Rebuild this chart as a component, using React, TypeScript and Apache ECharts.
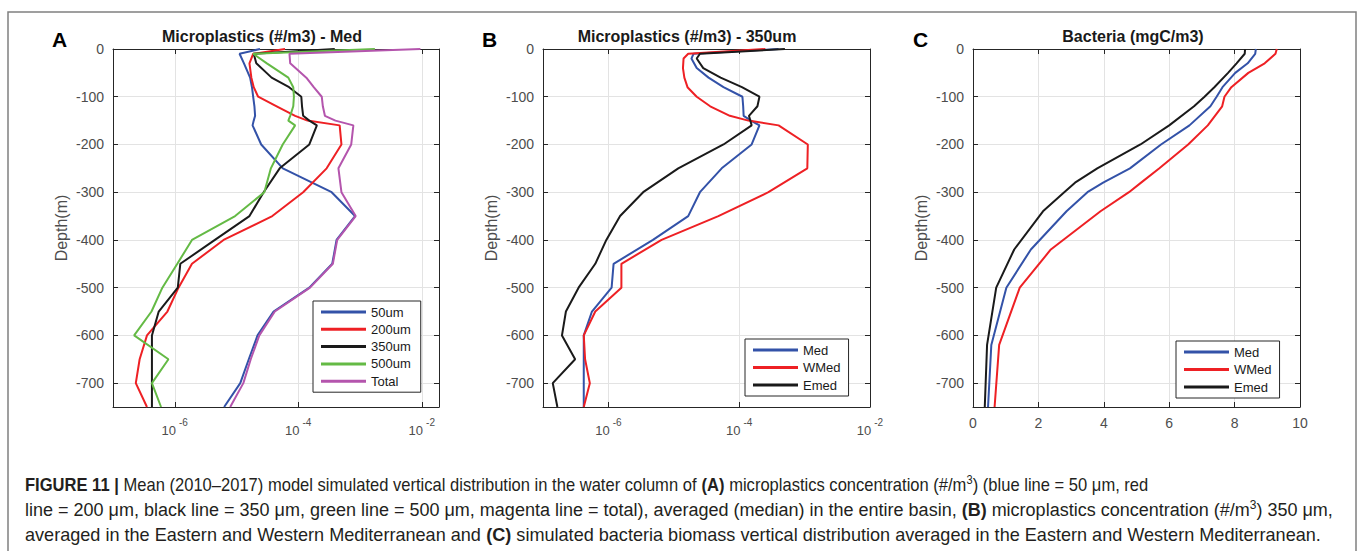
import React, { useEffect, useRef } from 'react';
import * as echarts from 'echarts';

// ---------- Panel A: Microplastics (#/m3) - Med ----------
const depthA = [0, -10, -30, -60, -80, -100, -120, -140, -150, -160, -200, -250, -300, -350, -400, -450, -500, -550, -600, -650, -700, -750];
const a50um = [2.4e-5, 1.12e-5, 1.32e-5, 1.66e-5, 1.78e-5, 1.86e-5, 1.95e-5, 2.0e-5, 1.9e-5, 1.82e-5, 2.51e-5, 5.62e-5, 3.47e-4, 8.3e-4, 4.17e-4, 3.55e-4, 1.51e-4, 3.98e-5, 2.19e-5, 1.58e-5, 1.15e-5, 6.3e-6];
const a200um = [6.1e-5, 1.86e-5, 1.62e-5, 1.74e-5, 1.9e-5, 2.24e-5, 4.47e-5, 8.9e-5, 1.41e-4, 4.68e-4, 5.0e-4, 2.88e-4, 1.2e-4, 3.8e-5, 6.17e-6, 1.9e-6, 1.15e-6, 7.6e-7, 3.55e-7, 2.7e-7, 2.34e-7, 3.55e-7];
const a350um = [3.9e-4, 1.9e-5, 2.09e-5, 3.7e-5, 7.1e-5, 1.12e-4, 1.15e-4, 1.2e-4, 1.51e-4, 2.0e-4, 1.51e-4, 5.0e-5, 2.75e-5, 1.62e-5, 4.47e-6, 1.23e-6, 1.12e-6, 5.5e-7, 4.27e-7, 4.27e-7, 4.27e-7, 4.27e-7];
const a500um = [1.74e-3, 1.86e-5, 3.1e-5, 6.9e-5, 8.3e-5, 8.5e-5, 8.3e-5, 7.4e-5, 6.9e-5, 8.9e-5, 5.6e-5, 3.6e-5, 2.82e-5, 9.5e-6, 1.9e-6, 1.1e-6, 6.3e-7, 4.2e-7, 2.2e-7, 7.9e-7, 4.27e-7, 6.0e-7];
const aTotal = [9.5e-3, 7.2e-5, 7.4e-5, 1.35e-4, 1.78e-4, 2.4e-4, 2.5e-4, 2.7e-4, 4.0e-4, 7.8e-4, 7.2e-4, 4.47e-4, 5.0e-4, 8.5e-4, 4.27e-4, 3.63e-4, 1.55e-4, 4.17e-5, 2.34e-5, 1.7e-5, 1.29e-5, 7.9e-6];

// ---------- Panel B: Microplastics (#/m3) - 350um ----------
const depthB = [0, -10, -20, -40, -60, -80, -100, -120, -140, -150, -160, -200, -250, -300, -350, -400, -450, -500, -550, -600, -650, -700, -750];
const bMed = [4.0e-4, 2.0e-5, 1.86e-5, 2.24e-5, 3.4e-5, 5.75e-5, 1.12e-4, 1.15e-4, 1.17e-4, 1.51e-4, 2.04e-4, 1.55e-4, 5.4e-5, 2.51e-5, 1.66e-5, 4.8e-6, 1.2e-6, 1.12e-6, 5.6e-7, 4.2e-7, 4.2e-7, 4.2e-7, 4.2e-7];
const bWMed = [2.51e-4, 1.66e-5, 1.41e-5, 1.38e-5, 1.45e-5, 1.62e-5, 2.24e-5, 3.6e-5, 7.2e-5, 1.38e-4, 4.0e-4, 1.12e-3, 1.1e-3, 2.8e-4, 4.8e-5, 6.5e-6, 1.58e-6, 1.58e-6, 6.3e-7, 4.2e-7, 4.4e-7, 5.2e-7, 4.2e-7];
const bEmed = [5.0e-4, 2.51e-5, 2.24e-5, 2.82e-5, 5.2e-5, 1.1e-4, 2.04e-4, 1.9e-4, 1.41e-4, 1.48e-4, 1.55e-4, 5.75e-5, 1.17e-5, 3.4e-6, 1.51e-6, 9.3e-7, 6.3e-7, 3.5e-7, 2.24e-7, 1.95e-7, 3.1e-7, 1.41e-7, 1.66e-7];

// ---------- Panel C: Bacteria (mgC/m3) ----------
const depthC = [0, -10, -30, -50, -80, -100, -120, -160, -200, -250, -280, -300, -340, -420, -500, -620, -750];
const cMed = [8.65, 8.63, 8.4, 8.02, 7.63, 7.45, 7.26, 6.62, 5.75, 4.8, 3.98, 3.5, 2.86, 1.77, 1.02, 0.56, 0.46];
const cWMed = [9.29, 9.25, 8.92, 8.42, 7.9, 7.69, 7.62, 7.18, 6.58, 5.7, 5.14, 4.77, 3.9, 2.38, 1.43, 0.8, 0.66];
const cEmed = [8.32, 8.31, 8.06, 7.8, 7.38, 7.08, 6.76, 6.0, 5.12, 3.8, 3.12, 2.79, 2.14, 1.26, 0.71, 0.43, 0.36];

const legendA = ['50um', '200um', '350um', '500um', 'Total'];
const legendBC = ['Med', 'WMed', 'Emed'];
const titles = ['Microplastics (#/m3) - Med', 'Microplastics (#/m3) - 350um', 'Bacteria (mgC/m3)'];
const letters = ['A', 'B', 'C'];
const captionLines = [
  '{b|FIGURE 11 | }{n|Mean (2010–2017) model simulated vertical distribution in the water column of }{b|(A)}{n| microplastics concentration (#/m}{s|3}{n|) (blue line = 50 μm, red}',
  '{n|line = 200 μm, black line = 350 μm, green line = 500 μm, magenta line = total), averaged (median) in the entire basin, }{b|(B)}{n| microplastics concentration (#/m}{s|3}{n|) 350 μm,}',
  '{n|averaged in the Eastern and Western Mediterranean and }{b|(C)}{n| simulated bacteria biomass vertical distribution averaged in the Eastern and Western Mediterranean.}',
];
const captionScale = [0.92, 1.0, 1.005];

const BLUE = '#3352a8';
const RED = '#ee2024';
const BLACK = '#1a1a1a';
const GREEN = '#64ba45';
const MAGENTA = '#b455ad';
const AXIS = '#262626';
const LABEL = '#4d4d4d';
const GRIDC = '#e3e3e3';
const FONT = '"Liberation Sans", Arial, Helvetica, sans-serif';
const CAPFONT = '"Liberation Sans", Arial, Helvetica, sans-serif';
const CAPCOLOR = '#231f20';

const pairs = (xs: number[], ys: number[]) => xs.map((v, i) => [v, ys[i]]);

const powLabel = (v: number) => {
  const e = Math.round(Math.log10(v));
  return `{b|10}{s|${e}}`;
};

const powRich = {
  b: { fontSize: 13, color: LABEL, lineHeight: 20, verticalAlign: 'bottom', fontFamily: FONT },
  s: { fontSize: 10, color: LABEL, lineHeight: 10, verticalAlign: 'top', padding: [0, 0, 0, 3], fontFamily: FONT },
};

const grids = [
  { left: 113, top: 49, width: 326, height: 358 },
  { left: 543, top: 49, width: 327, height: 358 },
  { left: 973, top: 49, width: 327, height: 358 },
];

function logX(grid: number, max: number, showMax: boolean, top: boolean) {
  return {
    type: 'log',
    logBase: 100,
    gridIndex: grid,
    min: 1e-7,
    max,
    position: top ? 'top' : 'bottom',
    axisLine: { show: true, onZero: false, lineStyle: { color: AXIS, width: 1 } },
    axisTick: { show: true, inside: true, length: 5, lineStyle: { color: AXIS } },
    splitLine: { show: !top, lineStyle: { color: GRIDC, width: 1 } },
    minorTick: { show: false },
    axisLabel: top
      ? { show: false }
      : { show: true, margin: 10, showMinLabel: false, showMaxLabel: showMax, formatter: powLabel, rich: powRich },
  };
}

function linX(grid: number, top: boolean) {
  return {
    type: 'value',
    gridIndex: grid,
    min: 0,
    max: 10,
    interval: 2,
    position: top ? 'top' : 'bottom',
    axisLine: { show: true, onZero: false, lineStyle: { color: AXIS, width: 1 } },
    axisTick: { show: true, inside: true, length: 5, lineStyle: { color: AXIS } },
    splitLine: { show: !top, lineStyle: { color: GRIDC, width: 1 } },
    axisLabel: top ? { show: false } : { show: true, margin: 9, color: LABEL, fontSize: 14, fontFamily: FONT },
  };
}

function depthY(grid: number, right: boolean) {
  return {
    type: 'value',
    gridIndex: grid,
    min: -750,
    max: 0,
    splitNumber: 7,
    position: right ? 'right' : 'left',
    name: right ? '' : 'Depth(m)',
    nameLocation: 'middle',
    nameRotate: 90,
    nameGap: 44,
    nameTextStyle: { color: LABEL, fontSize: 16, fontFamily: FONT },
    axisLine: { show: true, onZero: false, lineStyle: { color: AXIS, width: 1 } },
    axisTick: { show: true, inside: true, length: 5, lineStyle: { color: AXIS } },
    splitLine: { show: !right, lineStyle: { color: GRIDC, width: 1 } },
    axisLabel: right
      ? { show: false }
      : { show: true, margin: 9, showMinLabel: false, color: LABEL, fontSize: 14, fontFamily: FONT },
  };
}

function line(name: string, color: string, xi: number, data: number[][]) {
  return {
    type: 'line',
    name,
    xAxisIndex: xi,
    yAxisIndex: xi,
    data,
    showSymbol: false,
    symbol: 'none',
    clip: true,
    lineStyle: { color, width: 2 },
    itemStyle: { color },
    z: 3,
  };
}

function legend(data: string[], left: number, top: number, padding: number[], gap: number) {
  return {
    orient: 'vertical',
    left,
    top,
    data,
    icon: 'rect',
    itemWidth: 45,
    itemHeight: 3,
    itemGap: gap,
    padding,
    borderColor: AXIS,
    borderWidth: 1,
    backgroundColor: '#ffffff',
    selectedMode: false,
    textStyle: { color: BLACK, fontSize: 13, lineHeight: 14, fontFamily: FONT },
  };
}

const titleX = [262, 687, 1133];
const letterX = [52, 482, 913];

const capRich = {
  n: { fontSize: 18, lineHeight: 22, verticalAlign: 'middle', fontFamily: CAPFONT, fill: CAPCOLOR, color: CAPCOLOR },
  b: { fontSize: 18, lineHeight: 22, verticalAlign: 'middle', fontWeight: 'bold', fontFamily: CAPFONT, fill: CAPCOLOR, color: CAPCOLOR },
  s: { fontSize: 12, lineHeight: 12, verticalAlign: 'top', fontFamily: CAPFONT, fill: CAPCOLOR, color: CAPCOLOR },
};

const option = {
  animation: false,
  backgroundColor: '#ffffff',
  textStyle: { fontFamily: FONT },
  grid: grids,
  xAxis: [
    logX(0, 0.019, false, false),
    logX(0, 0.019, false, true),
    logX(1, 1e-2, true, false),
    logX(1, 1e-2, true, true),
    linX(2, false),
    linX(2, true),
  ],
  yAxis: [depthY(0, false), depthY(0, true), depthY(1, false), depthY(1, true), depthY(2, false), depthY(2, true)],
  legend: [
    legend(legendA, 313, 301, [4, 10, 4, 8], 3.3),
    legend(legendBC, 745, 339, [4, 8, 4, 8], 3.5),
    legend(legendBC, 1176, 341, [4, 8, 4, 8], 3.5),
  ],
  series: [
    line('50um', BLUE, 0, pairs(a50um, depthA)),
    line('200um', RED, 0, pairs(a200um, depthA)),
    line('350um', BLACK, 0, pairs(a350um, depthA)),
    line('500um', GREEN, 0, pairs(a500um, depthA)),
    line('Total', MAGENTA, 0, pairs(aTotal, depthA)),
    line('Med', BLUE, 2, pairs(bMed, depthB)),
    line('WMed', RED, 2, pairs(bWMed, depthB)),
    line('Emed', BLACK, 2, pairs(bEmed, depthB)),
    line('Med', BLUE, 4, pairs(cMed, depthC)),
    line('WMed', RED, 4, pairs(cWMed, depthC)),
    line('Emed', BLACK, 4, pairs(cEmed, depthC)),
  ],
  graphic: [
    {
      type: 'rect',
      shape: { x: 8, y: 12, width: 1348, height: 560 },
      style: { fill: 'none', stroke: '#808080', lineWidth: 1.5 },
      silent: true,
      z: 0,
    },
    ...titles.map((t, i) => ({
      type: 'text',
      x: titleX[i],
      y: 36.5,
      style: {
        text: t,
        fill: BLACK,
        fontSize: 16,
        fontWeight: 'bold',
        fontFamily: FONT,
        align: 'center',
        verticalAlign: 'middle',
        textAlign: 'center',
        textVerticalAlign: 'middle',
      },
      z: 10,
    })),
    ...letters.map((t, i) => ({
      type: 'text',
      x: letterX[i],
      y: 39,
      style: {
        text: t,
        fill: '#000000',
        fontSize: 21,
        fontWeight: 'bold',
        fontFamily: FONT,
        align: 'left',
        verticalAlign: 'middle',
        textAlign: 'left',
        textVerticalAlign: 'middle',
      },
      z: 10,
    })),
    ...captionLines.map((t, i) => ({
      type: 'text',
      x: 25,
      y: 485 + i * 25,
      scaleX: captionScale[i],
      style: {
        text: t,
        fill: CAPCOLOR,
        fontSize: 18,
        fontFamily: CAPFONT,
        align: 'left',
        verticalAlign: 'middle',
        textAlign: 'left',
        textVerticalAlign: 'middle',
        rich: capRich,
      },
      z: 10,
    })),
  ],
};

export default function App() {
  const ref = useRef<HTMLDivElement>(null);
  useEffect(() => {
    if (!ref.current) return;
    const chart = echarts.init(ref.current, null, { renderer: 'svg' });
    chart.setOption(option as any);
    return () => {
      chart.dispose();
    };
  }, []);
  return (
    <div
      ref={ref}
      style={{ position: 'absolute', left: 0, top: 0, width: 1360, height: 551, background: '#ffffff' }}
    />
  );
}
